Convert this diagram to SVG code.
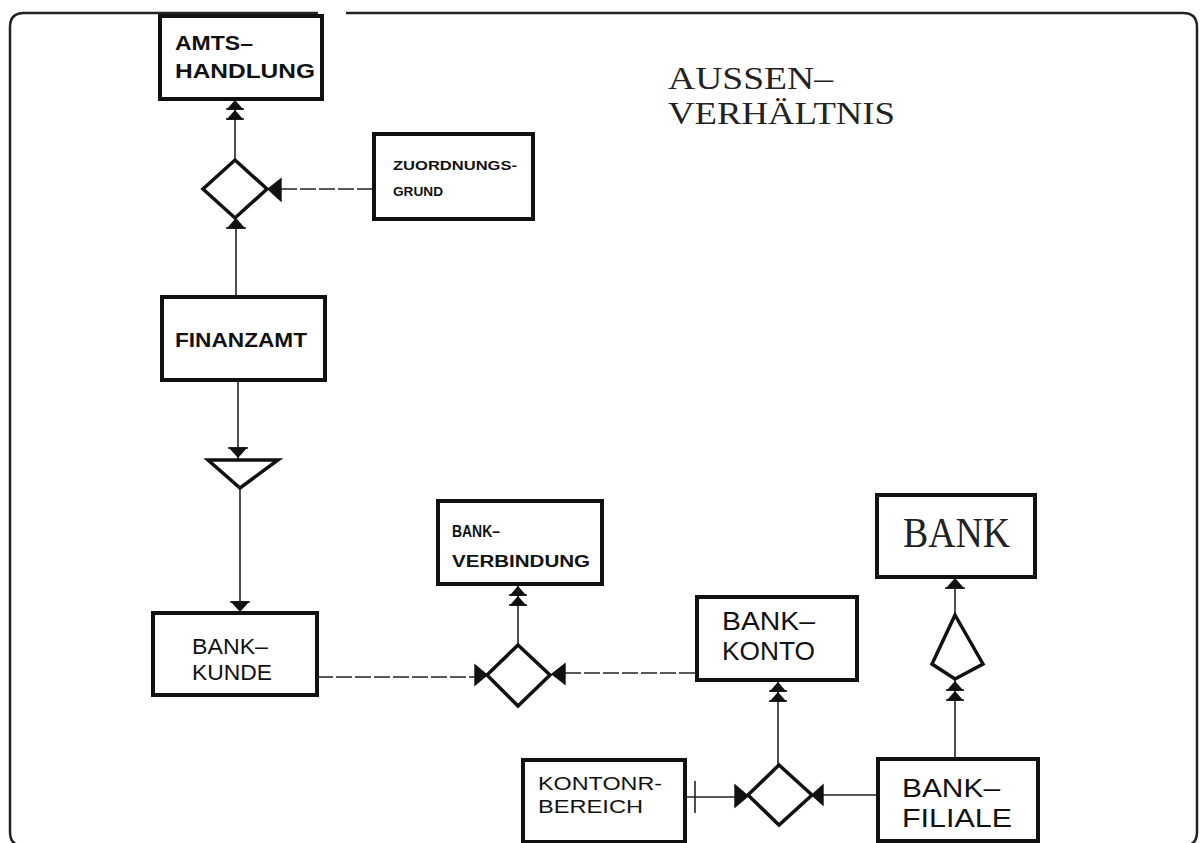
<svg xmlns="http://www.w3.org/2000/svg" xmlns:xlink="http://www.w3.org/1999/xlink" width="1200" height="843" viewBox="0 0 1200 843">
<style>
.box{fill:#fff;stroke:#111;stroke-width:4}
.rel{fill:#fff;stroke:#111;stroke-width:3.5;stroke-linejoin:miter}
.ln{fill:none;stroke:#222;stroke-width:1.6}
.dash{stroke-dasharray:16 3}
.frame{fill:none;stroke:#222;stroke-width:2.5}
.b{font-family:"Liberation Sans",Arial,sans-serif;font-weight:bold;fill:#111}
.n{font-family:"Liberation Sans",Arial,sans-serif;fill:#111}
.s{font-family:"Liberation Serif","Times New Roman",serif;fill:#222}
.mk{fill:#111;stroke:#111;stroke-width:1.4}
</style>
<defs>
<g id="dbl"><path d="M0,0 L-7,8 L7,8 Z M0,10 L-7,18 L7,18 Z"/><path d="M-9,8 H9 M-9,18 H9" fill="none"/></g>
<g id="sgl"><path d="M0,0 L-8,9 L8,9 Z"/><path d="M-10,9 H10" fill="none"/></g>
</defs>
<path class="frame" d="M318,13 H24 Q10,13 10,27 V832 Q10,846 24,846 H1183 Q1197,846 1197,832 V27 Q1197,13 1183,13 H346"/>
<g id="connectors">
<path class="ln" d="M235,99 V160"/>
<path class="ln" d="M236,218 V297"/>
<path class="ln dash" d="M281,189 H373"/>
<path class="ln" d="M238,380 V460"/>
<path class="ln" d="M240,488 V613"/>
<path class="ln dash" d="M317,677 H476"/>
<path class="ln" d="M518,645 V585"/>
<path class="ln dash" d="M565,673 H697"/>
<path class="ln" d="M778,680 V765"/>
<path class="ln" d="M685,797 H736"/>
<path class="ln" d="M695,781 V813"/>
<path class="ln" d="M822,795 H878"/>
<path class="ln" d="M955,760 V680"/>
<path class="ln" d="M955,615 V577"/>
<g class="mk">
<use xlink:href="#dbl" transform="translate(235,101)"/>
<use xlink:href="#sgl" transform="translate(236,219)"/>
<path d="M268,189 L281,179 L281,201 Z"/>
<use xlink:href="#sgl" transform="translate(238,457) rotate(180)"/>
<use xlink:href="#sgl" transform="translate(240,611) rotate(180)"/>
<path d="M487,675 L475,665 L475,685 Z"/>
<use xlink:href="#dbl" transform="translate(518,587)"/>
<path d="M552,674 L565,664 L565,684 Z"/>
<use xlink:href="#dbl" transform="translate(778,683)"/>
<path d="M748,796 L735,785 L735,807 Z"/>
<path d="M812,795 L823,785 L823,805 Z"/>
<use xlink:href="#dbl" transform="translate(955,682)"/>
<use xlink:href="#sgl" transform="translate(955,579)"/>
</g>
</g>
<g id="amts-handlung">
<rect class="box" x="160" y="16" width="162" height="83"/>
<text class="b" x="175" y="50" font-size="20" textLength="78" lengthAdjust="spacingAndGlyphs">AMTS–</text>
<text class="b" x="175" y="78" font-size="20" textLength="140" lengthAdjust="spacingAndGlyphs">HANDLUNG</text>
</g>
<g id="zuordnungsgrund">
<rect class="box" x="374" y="134" width="159" height="85"/>
<text class="b" x="393" y="170" font-size="13" textLength="124" lengthAdjust="spacingAndGlyphs">ZUORDNUNGS-</text>
<text class="b" x="393" y="196" font-size="13" textLength="50" lengthAdjust="spacingAndGlyphs">GRUND</text>
</g>
<g id="rel-amts">
<path class="rel" d="M235,160 L267,189 L235,218 L203,189 Z"/>
</g>
<g id="finanzamt">
<rect class="box" x="162" y="297" width="163" height="83"/>
<text class="b" x="175" y="347" font-size="20" textLength="132" lengthAdjust="spacingAndGlyphs">FINANZAMT</text>
</g>
<g id="triangle">
<path class="rel" d="M208,460 L278,460 L240,488 Z"/>
</g>
<g id="bank-kunde">
<rect class="box" x="153" y="613" width="164" height="82"/>
<text class="n" x="192" y="654" font-size="22" textLength="76" lengthAdjust="spacingAndGlyphs">BANK–</text>
<text class="n" x="192" y="680" font-size="22" textLength="80" lengthAdjust="spacingAndGlyphs">KUNDE</text>
</g>
<g id="bankverbindung">
<rect class="box" x="438" y="501" width="164" height="83"/>
<text class="b" x="452" y="537" font-size="16" textLength="48" lengthAdjust="spacingAndGlyphs">BANK–</text>
<text class="b" x="452" y="567" font-size="16" textLength="138" lengthAdjust="spacingAndGlyphs">VERBINDUNG</text>
</g>
<g id="rel-bankverbindung">
<path class="rel" d="M518,645 L550,675 L518,706 L487,675 Z"/>
</g>
<g id="bank-konto">
<rect class="box" x="697" y="597" width="160" height="83"/>
<text class="n" x="722" y="630" font-size="25" textLength="93" lengthAdjust="spacingAndGlyphs">BANK–</text>
<text class="n" x="722" y="660" font-size="25" textLength="93" lengthAdjust="spacingAndGlyphs">KONTO</text>
</g>
<g id="rel-konto">
<path class="rel" d="M779,765 L812,795 L779,825 L748,795 Z"/>
</g>
<g id="kontonr-bereich">
<rect class="box" x="523" y="760" width="162" height="82"/>
<text class="n" x="538" y="790" font-size="18" textLength="124" lengthAdjust="spacingAndGlyphs">KONTONR-</text>
<text class="n" x="538" y="813" font-size="18" textLength="105" lengthAdjust="spacingAndGlyphs">BEREICH</text>
</g>
<g id="bank-filiale">
<rect class="box" x="878" y="759" width="160" height="82"/>
<text class="n" x="902" y="797" font-size="26" textLength="98" lengthAdjust="spacingAndGlyphs">BANK–</text>
<text class="n" x="902" y="827" font-size="26" textLength="110" lengthAdjust="spacingAndGlyphs">FILIALE</text>
</g>
<g id="kite">
<path class="rel" d="M955,615 L983,664 L955,679 L932,664 Z"/>
</g>
<g id="bank">
<rect class="box" x="877" y="495" width="158" height="82"/>
<text class="s" x="903" y="547" font-size="42" textLength="107" lengthAdjust="spacingAndGlyphs">BANK</text>
</g>
<g id="title">
<text class="s" x="668" y="89" font-size="31" textLength="165" lengthAdjust="spacingAndGlyphs">AUSSEN–</text>
<text class="s" x="668" y="124" font-size="31" textLength="227" lengthAdjust="spacingAndGlyphs">VERHÄLTNIS</text>
</g>
</svg>
